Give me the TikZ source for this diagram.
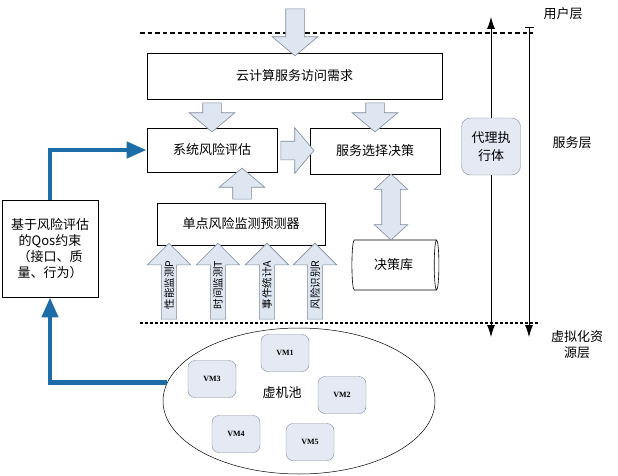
\documentclass[tikz,border=0pt]{standalone}
\usepackage{fontspec}
\newfontfamily\cjk{Noto Sans CJK SC}
\newfontfamily\vmfont{Liberation Serif}
\usetikzlibrary{arrows.meta,calc,shapes.arrows,shapes.geometric,positioning}
\definecolor{arrowfill}{RGB}{222,230,242}
\definecolor{arrowline}{RGB}{128,138,155}
\definecolor{vmfill}{RGB}{228,233,243}
\definecolor{qosblue}{RGB}{28,108,168}

\begin{document}
\begin{tikzpicture}[x=1pt,y=-1pt,
    font=\cjk\fontsize{13}{15}\selectfont,
    box/.style={draw,fill=white,line width=0.9pt,inner sep=0pt},
    blk/.style={single arrow,draw=arrowline,fill=arrowfill,line width=0.6pt,
      single arrow head extend=13.5pt,single arrow tip angle=100,
      inner xsep=0pt,inner ysep=9pt},
    blkdown/.style={blk,rotate=-90},
    blkup/.style={blk,rotate=90},
    sensor/.style={blk,rotate=90,single arrow tip angle=90,
      single arrow head extend=14pt,minimum height=76pt,
      inner xsep=1pt,inner ysep=2.5pt,
      font=\cjk\fontsize{10.5}{12}\selectfont},
    vm/.style={draw=arrowline,fill=vmfill,rounded corners=7pt,
      minimum width=48pt,minimum height=37pt,
      font=\vmfont\bfseries\fontsize{8}{9}\selectfont},
    qosline/.style={draw=qosblue,line width=4.5pt,
      -{Triangle[length=20pt,width=16pt]}},
    layerline/.style={line width=0.8pt,-{Latex[length=12pt,width=8pt]}}]
    \useasboundingbox (0,0) rectangle (618,476);

    % layer borders
    \draw[line width=2pt,dash pattern=on 4.5pt off 3pt] (140,33) -- (533,33);
    \draw[line width=2.5pt,dash pattern=on 2.5pt off 2.5pt] (140,323) -- (540,323);

    % service layer boxes
    \node[box,minimum width=295pt,minimum height=46pt] (req) at (294.5,76) {云计算服务访问需求};
    \node[box,minimum width=130pt,minimum height=44pt] (sysrisk) at (212,150) {系统风险评估};
    \node[box,minimum width=130pt,minimum height=46pt] (select) at (375,151) {服务选择决策};
    \node[box,minimum width=168pt,minimum height=42pt] (monitor) at (241,224) {单点风险监测预测器};
    \node[cylinder,draw,fill=white,line width=0.6pt,aspect=0.25,
      minimum width=50pt,minimum height=87pt] (db) at (393.5,265) {决策库};
    \node[box,minimum width=96pt,minimum height=97pt,align=center,
      font=\cjk\fontsize{13}{16}\selectfont] (qos) at (50,248.5)
      {基于风险评估\\的Qos约束\\（接口、质\\量、行为）};

    % block arrows
    \node[blkdown,minimum height=47pt] (userin) at (295,28.5) {};
    \node[blkdown,minimum height=29pt] (toeval) at ($(req.south -| sysrisk.north)!0.5!(sysrisk.north)$) {};
    \node[blkdown,minimum height=29pt] (tosel) at ($(req.south -| select.north)!0.5!(select.north)$) {};
    \node[blk,minimum height=33pt] (evalsel) at ($(sysrisk.east)!0.5!(select.west)$) {};
    \node[blkup,minimum height=31pt] (monup) at (242,187.5) {};
    \node[double arrow,draw=arrowline,fill=arrowfill,line width=0.6pt,
      rotate=90,double arrow head extend=7.5pt,double arrow tip angle=95,
      minimum height=66pt,inner xsep=0pt,inner ysep=9pt] (dblink) at (391,207) {};

    % monitoring inputs
    \node[sensor] (perf) at (169,285) {性能监测P};
    \node[sensor] (time) at (218,285) {时间监测T};
    \node[sensor] (event) at (267,285) {事件统计A};
    \node[sensor] (risk) at (315,285) {风险识别R};

    % virtual machine pool
    \node[ellipse,draw,line width=0.5pt,minimum width=272pt,minimum height=146pt] (pool) at (299,401) {};
    \node (poolname) at (282,393) {虚机池};
    \node[vm] (vm1) at (285,353) {VM1};
    \node[vm] (vm2) at (342,395) {VM2};
    \node[vm] (vm3) at (212,379) {VM3};
    \node[vm] (vm4) at (236,434) {VM4};
    \node[vm] (vm5) at (310,442) {VM5};

    % qos feedback
    \draw[qosline] (pool.172) -| (qos.south);
    \draw[qosline] (qos.north) |- (sysrisk.west);

    % agent and layers
    \coordinate (atop) at (491,17);
    \coordinate (abot) at (491,337);
    \coordinate (rtop) at (529,27);
    \coordinate (rbot) at (529,337);
    \node[draw=arrowline,fill=vmfill,rounded corners=9pt,minimum width=59pt,
      minimum height=57pt,align=center,
      font=\cjk\fontsize{13}{18}\selectfont] (agent) at (491,146.5) {代理执\\行体};
    \draw[layerline] (agent) -- (atop);
    \draw[layerline] (agent) -- (abot);
    \draw[layerline,{Bar[width=9pt]}-{Latex[length=12pt,width=8pt]}] (rtop) -- (rbot);

    \node (user) at (563,14) {用户层};
    \node (service) at (572,143) {服务层};
    \node[align=center,font=\cjk\fontsize{13}{16}\selectfont] (virt) at (577,345) {虚拟化资\\源层};
\end{tikzpicture}
\end{document}
